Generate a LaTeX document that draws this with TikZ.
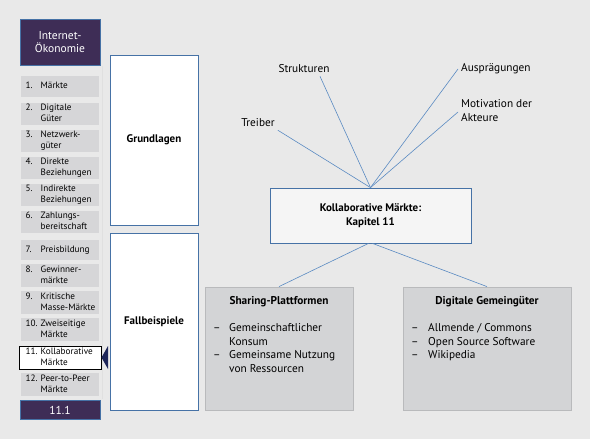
\documentclass[tikz,border=0pt]{standalone}
\usepackage{fontspec}
\setmainfont{PT Sans}

\definecolor{bggray}{HTML}{E9E9E9}
\definecolor{darkpurple}{HTML}{3E2D56}
\definecolor{itemgray}{HTML}{D6D6D8}
\definecolor{frameblue}{HTML}{4672A6}
\definecolor{linkblue}{HTML}{5A8AC2}
\definecolor{casegray}{HTML}{D3D4D6}
\definecolor{caseline}{HTML}{B9BABC}
\definecolor{pointernavy}{HTML}{1E2659}

\tikzset{
  headbox/.style={draw=frameblue, line width=0.6pt, fill=darkpurple, text=white,
    font=\fontsize{11.5}{13}\selectfont, align=center, inner sep=0pt,
    minimum width=80pt},
  sideitem/.style={fill=itemgray, minimum width=78pt, inner sep=0pt},
  activeitem/.style={fill=white, draw=black, line width=0.8pt, minimum width=82pt, inner sep=0pt},
  sidetext/.style={anchor=west, inner sep=0pt, font=\fontsize{9.2}{11}\selectfont},
  sectionbox/.style={draw=frameblue, line width=0.7pt, fill=white,
    font=\bfseries\fontsize{11}{13}\selectfont, inner sep=0pt},
  centerbox/.style={draw=frameblue, line width=0.8pt, fill=white!96!black,
    font=\bfseries\fontsize{11}{14}\selectfont, align=center, inner sep=0pt},
  casebox/.style={draw=caseline, line width=0.8pt, fill=casegray, inner sep=0pt},
  casetitle/.style={font=\bfseries\fontsize{11.3}{13}\selectfont, inner sep=0pt},
  caselist/.style={anchor=north west, inner sep=0pt, font=\fontsize{11.3}{13.5}\selectfont},
  lbl/.style={font=\fontsize{11.3}{14}\selectfont, inner sep=3pt},
  link/.style={draw=linkblue, line width=0.6pt}
}

\begin{document}
\begin{tikzpicture}[x=1pt,y=-1pt]

  % Background
  \fill[bggray] (0,0) rectangle (590,439);
  \useasboundingbox (0,0) rectangle (590,439);

  % Sidebar
  \draw[black!12] (102.5,66) -- (102.5,399);
  \node[headbox, minimum height=46pt] (oekonomie) at (60,42) {Internet-\\Ökonomie};

  \foreach \n/\top/\bot/\sty/\txt in {
      1/76/97/sideitem/{1.&Märkte},
      2/103/125/sideitem/{2.&Digitale\\&Güter},
      3/130/152/sideitem/{3.&Netzwerk-\\&güter},
      4/157/179/sideitem/{4.&Direkte\\&Beziehungen},
      5/184/206/sideitem/{5.&Indirekte\\&Beziehungen},
      6/211/233/sideitem/{6.&Zahlungs-\\&bereitschaft},
      7/240/260/sideitem/{7.&Preisbildung},
      8/264/287/sideitem/{8.&Gewinner-\\&märkte},
      9/291/314/sideitem/{9.&Kritische\\&Masse-Märkte},
      10/318/341/sideitem/{10.&Zweiseitige\\&Märkte},
      11/346/369/activeitem/{11.&Kollaborative\\&Märkte},
      12/373/396/sideitem/{12.&Peer-to-Peer\\&Märkte}}{
    \node[\sty, minimum height={(\bot-\top)*1pt}] (item\n) at (60,{(\top+\bot)/2}) {};
    \node[sidetext] (itemtxt\n) at (25.5,{(\top+\bot)/2})
      {\begin{tabular}{@{}p{15pt}@{}l@{}}\txt\end{tabular}};
  }

  \node[headbox, minimum height=19pt] (abschnitt) at (60,410) {11.1};

  % Pointer to the active chapter
  \fill[pointernavy] (101.5,357.5) -- (108,346) -- (108,369) -- cycle;

  % Section boxes
  \node[sectionbox, minimum width=88pt, minimum height=170pt] (grundlagen) at (154,140) {Grundlagen};
  \node[sectionbox, minimum width=88pt, minimum height=177pt] (fallbeispiele) at (154,321.5) {Fallbeispiele};

  % Chapter box and its aspects
  \node[centerbox, minimum width=201pt, minimum height=55pt] (kapitel) at (370.5,215.5)
    {Kollaborative Märkte:\\Kapitel 11};

  \node[lbl] (treiber) at (258,123) {Treiber};
  \node[lbl] (strukturen) at (304,69) {Strukturen};
  \node[lbl, anchor=west] (auspraegungen) at (458,69) {Ausprägungen};
  \node[lbl, anchor=west, align=left] (motivation) at (458,111) {Motivation der\\Akteure};

  \draw[link] (kapitel.north) -- (treiber.south east);
  \draw[link] (kapitel.north) -- ([xshift=16pt]strukturen.south);
  \draw[link] (kapitel.north) -- (auspraegungen.west);
  \draw[link] (kapitel.north) -- ([yshift=-1pt]motivation.west);

  % Case studies
  \node[casebox, minimum width=148pt, minimum height=123pt] (sharing) at (279,348.5) {};
  \node[casebox, minimum width=168pt, minimum height=123pt] (gemeingueter) at (487,348.5) {};

  \node[casetitle] (sharingtitel) at ([yshift=-15pt]sharing.north) {Sharing-Plattformen};
  \node[casetitle] (gemeintitel) at ([yshift=-15pt]gemeingueter.north) {Digitale Gemeingüter};

  \node[caselist] (sharingliste) at (213,322)
    {\begin{tabular}{@{}p{16pt}@{}l@{}}–&Gemeinschaftlicher\\&Konsum\\–&Gemeinsame Nutzung\\&von Ressourcen\end{tabular}};
  \node[caselist] (gemeinliste) at (411,322)
    {\begin{tabular}{@{}p{17pt}@{}l@{}}–&Allmende / Commons\\–&Open Source Software\\–&Wikipedia\end{tabular}};

  \draw[link] ([xshift=-2pt]kapitel.south) -- (sharing.north);
  \draw[link] ([xshift=2pt]kapitel.south) -- (gemeingueter.north);

\end{tikzpicture}
\end{document}
